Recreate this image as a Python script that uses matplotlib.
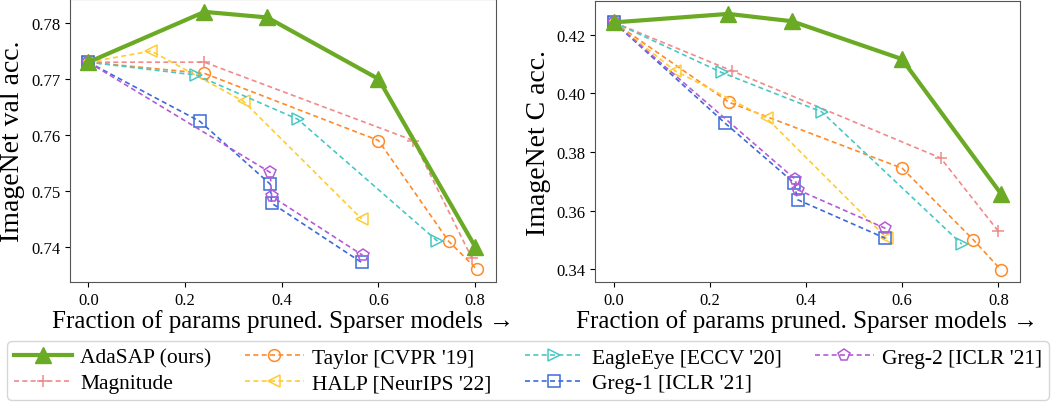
import matplotlib
matplotlib.use("Agg")
import matplotlib.pyplot as plt
import numpy as np

plt.rcParams["font.family"] = ["Liberation Serif", "DejaVu Serif"]

names = ["AdaSAP (ours)", "Magnitude", "Taylor [CVPR '19]", "HALP [NeurIPS '22]",
         "EagleEye [ECCV '20]", "Greg-1 [ICLR '21]", "Greg-2 [ICLR '21]"]
colors = ["#6aaa24", "#f08a8a", "#ff8a2a", "#ffcc33", "#48c8c4", "#3a6bd8", "#b45ad6"]
markers = ["^", "+", "o", "<", ">", "s", "p"]

# ImageNet val
val_x = [
    [0.0, 0.24, 0.37, 0.60, 0.80],
    [0.0, 0.24, 0.672, 0.793],
    [0.0, 0.24, 0.60, 0.745, 0.803],
    [0.0, 0.13, 0.321, 0.565],
    [0.0, 0.223, 0.433, 0.722],
    [0.0, 0.231, 0.376, 0.379, 0.565],
    [0.0, 0.376, 0.379, 0.567],
]
val_y = [
    [0.773, 0.782, 0.781, 0.770, 0.740],
    [0.773, 0.773, 0.759, 0.738],
    [0.773, 0.771, 0.759, 0.741, 0.736],
    [0.773, 0.775, 0.766, 0.745],
    [0.773, 0.7707, 0.7628, 0.741],
    [0.773, 0.7624, 0.7512, 0.7478, 0.7372],
    [0.773, 0.7533, 0.749, 0.7385],
]

# ImageNet C
c_x = [
    [0.0, 0.238, 0.370, 0.599, 0.806],
    [0.0, 0.245, 0.680, 0.800],
    [0.0, 0.240, 0.600, 0.748, 0.805],
    [0.0, 0.127, 0.318, 0.568],
    [0.0, 0.224, 0.432, 0.724],
    [0.0, 0.232, 0.375, 0.382, 0.565],
    [0.0, 0.377, 0.382, 0.565],
]
c_y = [
    [0.4242, 0.4271, 0.4246, 0.4117, 0.3656],
    [0.4242, 0.4077, 0.3779, 0.3529],
    [0.4242, 0.3969, 0.3744, 0.3500, 0.3398],
    [0.4242, 0.4077, 0.3915, 0.3505],
    [0.4242, 0.4071, 0.3937, 0.3485],
    [0.4242, 0.3897, 0.3694, 0.3637, 0.3505],
    [0.4242, 0.3707, 0.3671, 0.3539],
]

fig = plt.figure(figsize=(10.58, 4.06), dpi=100)
ax1 = fig.add_axes([70 / 1058, 123 / 406, 426 / 1058, 283 / 406])
ax2 = fig.add_axes([595 / 1058, 123 / 406, 425 / 1058, 281 / 406])


def draw(ax, xs, ys):
    lines = []
    for i in range(len(names)):
        if i == 0:
            ln, = ax.plot(xs[i], ys[i], color=colors[i], marker=markers[i],
                          markersize=11, linewidth=3, label=names[i], zorder=5)
        else:
            ln, = ax.plot(xs[i], ys[i], color=colors[i], marker=markers[i],
                          markersize=8.5, markerfacecolor="none", markeredgewidth=1.1,
                          linestyle=(0, (3, 2)), linewidth=1.2, label=names[i])
        lines.append(ln)
    ax.tick_params(labelsize=12)
    ax.set_xticks([0.0, 0.2, 0.4, 0.6, 0.8])
    ax.set_xlabel("Fraction of params pruned. Sparser models \u2192", fontsize=18,
                  labelpad=1)
    for s in ax.spines.values():
        s.set_color("#555555")
    return lines


lines = draw(ax1, val_x, val_y)
ax1.set_ylim(0.7337, 0.7843)
ax1.set_xlim(-0.038, 0.843)
ax1.set_yticks([0.74, 0.75, 0.76, 0.77, 0.78])
ax1.set_ylabel("ImageNet val acc.", fontsize=20)

draw(ax2, c_x, c_y)
ax2.set_ylim(0.3356, 0.4315)
ax2.set_xlim(-0.0395, 0.845)
ax2.set_yticks([0.34, 0.36, 0.38, 0.40, 0.42])
ax2.set_ylabel("ImageNet C acc.", fontsize=20)

fig.legend(handles=lines, loc="lower left",
           bbox_to_anchor=(3 / 1058, 1 / 406, 1050 / 1058, 72 / 406), ncol=4,
           fontsize=15.5, frameon=True, fancybox=True, edgecolor="#cccccc",
           handlelength=2.7, handletextpad=0.4, borderpad=0.3, borderaxespad=0.2,
           labelspacing=0.25, mode="expand", bbox_transform=fig.transFigure)

plt.savefig("out.png", dpi=100)
